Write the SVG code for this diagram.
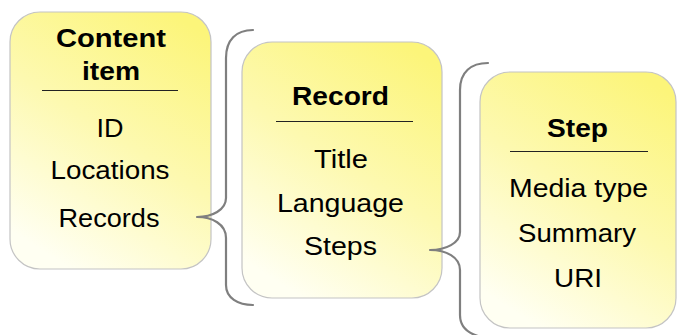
<svg xmlns="http://www.w3.org/2000/svg" width="677" height="335" viewBox="0 0 677 335">
  <defs>
    <linearGradient id="g" x1="0.8" y1="0" x2="0.3" y2="1">
      <stop offset="0" stop-color="#fcf57a"/>
      <stop offset="0.5" stop-color="#fdf9b0"/>
      <stop offset="1" stop-color="#fffff2"/>
    </linearGradient>
    <style>
      .box{fill:url(#g);stroke:#c4c4c4;stroke-width:1.2}
      .sep{stroke:#222;stroke-width:1.2}
      .brace{fill:none;stroke:#7f7f7f;stroke-width:2.2;stroke-linecap:round;stroke-linejoin:round}
      text{font-family:"Liberation Sans",Arial,sans-serif;font-size:26.5px;fill:#000;text-anchor:middle}
      .h{font-weight:bold}
    </style>
  </defs>
  <rect width="677" height="335" fill="#fff"/>
  <g id="content-item">
    <rect class="box" x="10" y="12" width="201" height="257" rx="30"/>
    <text class="h" x="111" y="47" textLength="110" lengthAdjust="spacingAndGlyphs">Content</text>
    <text class="h" x="111" y="80" textLength="58" lengthAdjust="spacingAndGlyphs">item</text>
    <line class="sep" x1="42" y1="90.5" x2="178" y2="90.5"/>
    <text x="110" y="137" textLength="27" lengthAdjust="spacingAndGlyphs">ID</text>
    <text x="110" y="179" textLength="119" lengthAdjust="spacingAndGlyphs">Locations</text>
    <text x="109" y="227" textLength="101" lengthAdjust="spacingAndGlyphs">Records</text>
  </g>
  <g id="record">
    <rect class="box" x="242" y="42" width="200" height="256" rx="30"/>
    <text class="h" x="340.5" y="105" textLength="97" lengthAdjust="spacingAndGlyphs">Record</text>
    <line class="sep" x1="276" y1="121.5" x2="413" y2="121.5"/>
    <text x="341" y="168" textLength="54" lengthAdjust="spacingAndGlyphs">Title</text>
    <text x="340.5" y="212" textLength="127" lengthAdjust="spacingAndGlyphs">Language</text>
    <text x="340.5" y="255" textLength="73" lengthAdjust="spacingAndGlyphs">Steps</text>
  </g>
  <g id="step">
    <rect class="box" x="480" y="72" width="196" height="256" rx="30"/>
    <text class="h" x="577.5" y="137" textLength="61" lengthAdjust="spacingAndGlyphs">Step</text>
    <line class="sep" x1="510" y1="151.5" x2="648" y2="151.5"/>
    <text x="578.5" y="197" textLength="139" lengthAdjust="spacingAndGlyphs">Media type</text>
    <text x="577" y="242" textLength="118" lengthAdjust="spacingAndGlyphs">Summary</text>
    <text x="578" y="287" textLength="48" lengthAdjust="spacingAndGlyphs">URI</text>
  </g>
  <g id="connectors">
    <path class="brace" d="M253,30 C236,30 226,40 226,58 L226,198 C226,210 212,217 197,217 C212,217 226,224 226,238 L226,285 C226,298 238,305 253,305"/>
    <path class="brace" d="M488,63 C471,63 460,72 460,90 L460,232 C460,243 446,250 430,250 C446,250 460,257 460,270 L460,315 C460,327 468,333 478,336"/>
  </g>
</svg>
